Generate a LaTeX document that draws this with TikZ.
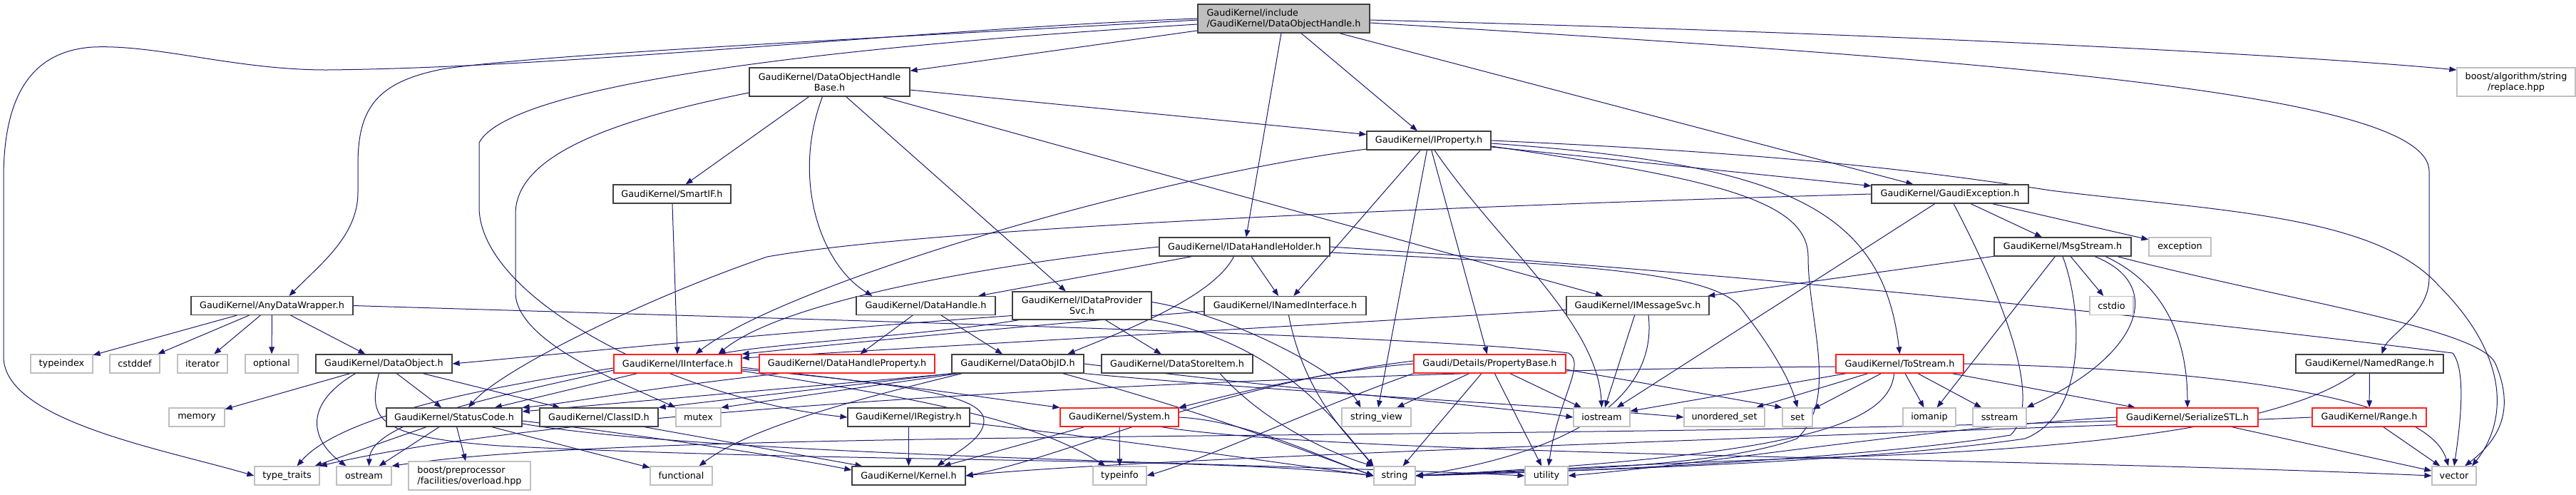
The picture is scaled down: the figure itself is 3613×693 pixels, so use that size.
\documentclass[tikz,border=0pt]{standalone}
\usepackage{fontspec}
\setmainfont{DejaVu Sans}
\usetikzlibrary{arrows.meta,calc}
\definecolor{edgec}{HTML}{191970}
\definecolor{docb}{HTML}{404040}
\definecolor{extb}{HTML}{BFBFBF}
\definecolor{redb}{HTML}{FF2020}
\definecolor{rootf}{HTML}{BFBFBF}
\newcommand\nodefnt{\fontsize{6.4}{7.5}\selectfont}
\pgfdeclarelayer{bg}
\pgfsetlayers{bg,main}
\tikzset{
  nb/.style={rectangle, fill=white, line width=0.6pt, inner sep=0pt, minimum height=13pt, font=\nodefnt, align=center},
  docn/.style={nb, draw=docb},
  extn/.style={nb, draw=extb},
  redn/.style={nb, draw=redb},
  bw/.style={minimum width=#1*0.5pt},
  tall/.style={minimum height=20pt},
  e/.style={draw=edgec, line width=0.5pt, -{Triangle[length=5pt,width=3.8pt]}}
}
\begin{document}
\begin{tikzpicture}[x=0.5pt,y=-0.5pt]
\useasboundingbox (0,0) rectangle (3613,693);
% row 0-4
\node[docn,bw=241,tall,fill=rootf,align=left] (main) at (1800.5,26) {GaudiKernel/include\\/GaudiKernel/DataObjectHandle.h};
\node[docn,bw=225,tall] (dohb) at (1163.5,115) {GaudiKernel/DataObjectHandle\\Base.h};
\node[extn,bw=166,tall] (boost) at (3529,115) {boost/algorithm/string\\/replace.hpp};
\node[docn,bw=174] (iprop) at (2004,197) {GaudiKernel/IProperty.h};
\node[docn,bw=165] (smartif) at (942.5,272) {GaudiKernel/SmartIF.h};
\node[docn,bw=220] (gexc) at (2735,272) {GaudiKernel/GaudiException.h};
\node[docn,bw=239] (idhh) at (1745.5,346) {GaudiKernel/IDataHandleHolder.h};
\node[docn,bw=192] (msgs) at (2893,346) {GaudiKernel/MsgStream.h};
\node[extn,bw=87] (exception) at (3057.5,346) {exception};
% row 5
\node[docn,bw=227] (anydw) at (381.5,428.5) {GaudiKernel/AnyDataWrapper.h};
\node[docn,bw=195] (dhandle) at (1298.5,428.5) {GaudiKernel/DataHandle.h};
\node[docn,bw=195,minimum height=19.5pt] (idps) at (1517.5,428.5) {GaudiKernel/IDataProvider\\Svc.h};
\node[docn,bw=227] (inamed) at (1802.5,428.5) {GaudiKernel/INamedInterface.h};
\node[docn,bw=200] (imsg) at (2297,428.5) {GaudiKernel/IMessageSvc.h};
\node[extn,bw=61] (cstdio) at (2961.5,428.5) {cstdio};
% row 6
\node[extn,bw=87] (typeindex) at (86.5,510) {typeindex};
\node[extn,bw=70] (cstddef) at (189,510) {cstddef};
\node[extn,bw=70] (iterator) at (284,510) {iterator};
\node[extn,bw=74] (optional) at (381,510) {optional};
\node[docn,bw=191] (dobj) at (538.5,510) {GaudiKernel/DataObject.h};
\node[redn,bw=179] (iintf) at (950.5,510) {GaudiKernel/IInterface.h};
\node[redn,bw=246] (dhp) at (1188,510) {GaudiKernel/DataHandleProperty.h};
\node[docn,bw=185] (dobjid) at (1427.5,510) {GaudiKernel/DataObjID.h};
\node[docn,bw=212] (dsi) at (1651,510) {GaudiKernel/DataStoreItem.h};
\node[redn,bw=213] (pbase) at (2089.5,510) {Gaudi/Details/PropertyBase.h};
\node[redn,bw=179] (tostream) at (2664.5,510) {GaudiKernel/ToStream.h};
\node[docn,bw=207] (namedrange) at (3323.5,510) {GaudiKernel/NamedRange.h};
% row 7
\node[extn,bw=78] (memory) at (276,585) {memory};
\node[docn,bw=190] (statuscode) at (637,585) {GaudiKernel/StatusCode.h};
\node[docn,bw=166] (classid) at (840,585) {GaudiKernel/ClassID.h};
\node[extn,bw=63] (mutex) at (979.5,585) {mutex};
\node[docn,bw=171] (iregistry) at (1274.5,585) {GaudiKernel/IRegistry.h};
\node[redn,bw=166] (system) at (1570,585) {GaudiKernel/System.h};
\node[extn,bw=97] (stringview) at (1930.5,585) {string\_view};
\node[extn,bw=79] (iostream) at (2246.5,585) {iostream};
\node[extn,bw=113] (unorderedset) at (2418.5,585) {unordered\_set};
\node[extn,bw=42] (set) at (2521,585) {set};
\node[extn,bw=74] (iomanip) at (2706,585) {iomanip};
\node[extn,bw=75] (sstream) at (2804.5,585) {sstream};
\node[redn,bw=198] (serstl) at (3068,585) {GaudiKernel/SerializeSTL.h};
\node[redn,bw=160] (range) at (3323,585) {GaudiKernel/Range.h};
% row 8
\node[extn,bw=91] (typetraits) at (402.5,667) {type\_traits};
\node[extn,bw=77] (ostream) at (510.5,667) {ostream};
\node[extn,bw=171,tall,align=left] (boostpp) at (658.5,667) {boost/preprocessor\\/facilities/overload.hpp};
\node[extn,bw=87] (functional) at (955.5,667) {functional};
\node[docn,bw=159] (kernel) at (1274.5,667) {GaudiKernel/Kernel.h};
\node[extn,bw=75] (typeinfo) at (1570.5,667) {typeinfo};
\node[extn,bw=58] (string) at (1956,667) {string};
\node[extn,bw=60] (utility) at (2169,667) {utility};
\node[extn,bw=62] (vector) at (3442,667) {vector};

\begin{pgfonlayer}{bg}
% main
\draw[e] (main.west) .. controls (1300,40) and (800,95) .. (458,98) .. controls (330,98) and (220,62) .. (130,66) .. controls (40,72) and (5,140) .. (5,250) -- (5,500) .. controls (5,590) and (230,630) .. (typetraits.west);
\draw[e] ($(main.west)+(0,2)$) .. controls (1300,50) and (760,75) .. (620,97) .. controls (530,115) and (502,150) .. (502,230) -- (502,270) .. controls (502,330) and (450,370) .. ($(anydw.north)+(24,0)$);
\draw[e] ($(main.west)+(0,8)$) .. controls (1250,60) and (720,110) .. (672,200) -- (672,290) .. controls (672,420) and (950,560) .. (iregistry.west);
\draw[e] (main) -- (dohb);
\draw[e] (main) -- (iprop);
\draw[e] (main) -- (gexc);
\draw[e] (main) -- (idhh);
\draw[e] ($(main.east)+(0,2)$) .. controls (2600,45) and (3200,75) .. ($(boost.west)+(0,-17)$);
\draw[e] ($(main.east)+(0,6)$) .. controls (2800,85) and (3407,130) .. (3407,240) -- (3407,390) .. controls (3407,440) and (3350,470) .. ($(namedrange.north)+(17,0)$);
% dohb
\draw[e] (dohb) -- (iprop);
\draw[e] (dohb) -- (imsg);
\draw[e] (dohb) -- (idps);
\draw[e] ($(dohb.south)+(-10,0)$) .. controls (1110,250) and (1150,370) .. ($(dhandle.north)+(-75,0)$);
\draw[e] (dohb) -- (smartif);
\draw[e] ($(dohb.west)+(0,15)$) .. controls (850,170) and (723,220) .. (723,300) -- (723,410) .. controls (723,480) and (880,540) .. (mutex.north west);
% iprop
\draw[e] ($(iprop.west)+(0,12)$) .. controls (1600,250) and (1100,400) .. ($(iintf.north)+(25,0)$);
\draw[e] (iprop) -- (inamed);
\draw[e] (iprop) -- (stringview);
\draw[e] (iprop) -- (pbase);
\draw[e] ($(iprop.south)+(8,0)$) .. controls (2100,340) and (2240,450) .. (iostream.north);
\draw[e] (iprop.east) .. controls (2500,215) and (2700,240) .. (2876,267) .. controls (3100,295) and (3330,300) .. (3420,400) .. controls (3530,510) and (3510,600) .. ($(vector.north)+(25,0)$);
\draw[e] ($(iprop.east)+(0,4)$) .. controls (2500,230) and (2640,290) .. (tostream.north);
\draw[e] ($(iprop.east)+(0,8)$) .. controls (2400,250) and (2536,280) .. (2536,360) .. controls (2536,450) and (2580,560) .. (2520,615) .. controls (2400,660) and (2100,660) .. (string.east);
\draw[e] (iprop) -- (gexc);
% smartif
\draw[e] (smartif) -- (iintf);
% gexc
\draw[e] (gexc) -- (msgs);
\draw[e] (gexc) -- (exception);
\draw[e] ($(gexc.south)+(5,0)$) .. controls (2800,400) and (2870,560) .. (2820,610) .. controls (2600,645) and (2200,662) .. (string.east);
\draw[e] (gexc) -- (iostream);
\draw[e] (gexc.west) .. controls (2000,290) and (1300,320) .. (1076,360) .. controls (900,420) and (700,520) .. ($(statuscode.north)+(20,0)$);
% idhh
\draw[e] ($(idhh.south)+(-15,0)$) .. controls (1700,420) and (1560,470) .. ($(dobjid.north)+(70,0)$);
\draw[e] (idhh) -- (inamed);
\draw[e] (idhh) -- (dhandle);
\draw[e] (idhh.west) .. controls (1400,370) and (1100,420) .. ($(iintf.north)+(57,0)$);
\draw[e] (idhh.east) .. controls (2400,380) and (3000,440) .. (3440,495) .. controls (3460,520) and (3450,600) .. (vector.north);
\draw[e] ($(idhh.east)+(0,8)$) .. controls (2200,370) and (2400,380) .. (2440,430) .. controls (2480,480) and (2510,530) .. (set.north);
% msgs
\draw[e] (msgs) -- (imsg);
\draw[e] (msgs) -- (iomanip);
\draw[e] (msgs) -- (cstdio);
\draw[e] ($(msgs.south)+(60,0)$) .. controls (3040,400) and (3068,480) .. (serstl.north);
\draw[e] ($(msgs.south)+(45,0)$) .. controls (3040,400) and (3000,500) .. (sstream.north east);
\draw[e] ($(msgs.south east)+(-20,0)$) .. controls (3200,420) and (3480,460) .. (3500,510) .. controls (3530,580) and (3500,620) .. ($(vector.north)+(15,0)$);
\draw[e] (msgs.south) .. controls (2920,430) and (2930,580) .. (2840,615) .. controls (2600,650) and (2200,660) .. (string.east);
% anydw
\draw[e] (anydw) -- (typeindex);
\draw[e] (anydw) -- (cstddef);
\draw[e] (anydw) -- (iterator);
\draw[e] (anydw) -- (optional);
\draw[e] (anydw) -- (dobj);
\draw[e] (anydw.east) .. controls (1200,450) and (2000,470) .. (2200,495) .. controls (2225,510) and (2185,560) .. ($(utility.north)+(3,0)$);
% dhandle
\draw[e] (dhandle) -- (dhp);
\draw[e] (dhandle) -- (dobjid);
% idps
\draw[e] (idps) -- (dsi);
\draw[e] ($(idps.west)+(0,14)$) .. controls (1100,465) and (800,495) .. (dobj.east);
\draw[e] ($(idps.south west)+(10,0)$) .. controls (1300,470) and (1100,480) .. ($(iintf.north)+(57,0)$);
\draw[e] (idps.south east) .. controls (1800,480) and (1880,600) .. (string.north west);
\draw[e] ($(idps.east)+(0,-5)$) .. controls (1720,440) and (1880,520) .. ($(stringview.north)+(-22,0)$);
% inamed
\draw[e] ($(inamed.west)+(0,8)$) .. controls (1400,460) and (1200,480) .. (iintf.north east);
\draw[e] ($(inamed.south)+(5,0)$) .. controls (1830,560) and (1900,620) .. (string.north west);
% imsg
\draw[e] ($(imsg.west)+(0,6)$) -- ($(iintf.east)+(0,-8)$);
\draw[e] (imsg) -- (iostream);
\draw[e] ($(imsg.south)+(15,0)$) .. controls (2330,600) and (2100,650) .. (string.east);
% dobj
\draw[e] (dobj) -- (memory);
\draw[e] ($(dobj.south)+(-40,0)$) .. controls (420,570) and (440,620) .. ($(ostream.north)+(-25,0)$);
\draw[e] (dobj) -- (statuscode);
\draw[e] (dobj) -- (classid);
\draw[e] ($(dobj.south)+(-7,0)$) .. controls (515,590) and (530,612) .. (700,625) .. controls (1200,650) and (1700,640) .. (string.west);
% iintf
\draw[e] (iintf) -- (statuscode);
\draw[e] ($(iintf.west)+(0,6)$) .. controls (700,540) and (480,580) .. ($(typetraits.north)+(14,0)$);
\draw[e] ($(iintf.west)+(0,9)$) .. controls (700,555) and (520,590) .. ($(ostream.north)+(7,0)$);
\draw[e] ($(iintf.east)+(0,8)$) .. controls (1200,530) and (1400,560) .. (system.north west);
\draw[e] ($(iintf.east)+(0,5)$) .. controls (1250,540) and (1380,550) .. (1380,590) .. controls (1380,615) and (1340,635) .. ($(kernel.north)+(40,0)$);
\draw[e] ($(iintf.east)+(0,10)$) .. controls (1300,560) and (1450,590) .. ($(typeinfo.north)+(-20,0)$);
% dhp
\draw[e] ($(dhp.south west)+(30,0)$) .. controls (900,545) and (800,565) .. (statuscode.north east);
% dobjid
\draw[e] (dobjid.south west) -- (classid.north east);
\draw[e] ($(dobjid.south west)+(5,0)$) -- ($(statuscode.east)+(0,-8)$);
\draw[e] ($(dobjid.south west)+(10,0)$) -- (mutex.north east);
\draw[e] ($(dobjid.south west)+(15,0)$) .. controls (1200,560) and (1050,600) .. ($(functional.north)+(25,0)$);
\draw[e] (dobjid.east) .. controls (1800,545) and (2100,570) .. (iostream.west);
\draw[e] (dobjid.south east) .. controls (1800,550) and (2200,570) .. (unorderedset.west);
\draw[e] ($(dobjid.south east)+(-30,0)$) .. controls (1700,580) and (1850,640) .. (string.west);
% dsi
\draw[e] ($(dsi.south)+(60,0)$) .. controls (1780,600) and (1880,640) .. (string.north west);
% pbase
\draw[e] (pbase.west) .. controls (1850,520) and (1700,560) .. (system.north east);
\draw[e] ($(pbase.west)+(0,-4)$) .. controls (1700,540) and (1500,640) .. (kernel.east);
\draw[e] (pbase.south west) .. controls (1850,570) and (1700,640) .. (typeinfo.east);
\draw[e] (pbase) -- (stringview);
\draw[e] (pbase) -- (string);
\draw[e] (pbase) -- (utility);
\draw[e] (pbase) -- (iostream);
\draw[e] ($(pbase.east)+(0,8)$) -- (set.north west);
% tostream
\draw[e] ($(tostream.west)+(0,4)$) .. controls (1800,520) and (800,570) .. (typetraits.north east);
\draw[e] ($(tostream.south west)+(15,0)$) -- ($(iostream.north east)+(0,5)$);
\draw[e] (tostream) -- (unorderedset);
\draw[e] (tostream) -- (set);
\draw[e] ($(tostream.south)+(-8,0)$) .. controls (2650,600) and (2500,640) .. (string.east);
\draw[e] (tostream) -- (iomanip);
\draw[e] (tostream) -- (sstream);
\draw[e] (tostream) -- (serstl);
\draw[e] (tostream.east) .. controls (3000,515) and (3400,540) .. ($(vector.north)+(-8,0)$);
% namedrange
\draw[e] (namedrange) -- (range);
\draw[e] ($(namedrange.south)+(-20,0)$) .. controls (3200,600) and (2900,630) .. (2600,640) .. controls (2300,650) and (2100,662) .. (string.east);
% statuscode
\draw[e] (statuscode) -- (typetraits);
\draw[e] (statuscode) -- (ostream);
\draw[e] (statuscode) -- (boostpp);
\draw[e] (statuscode) -- (functional);
\draw[e] ($(statuscode.east)+(0,5)$) .. controls (900,610) and (1100,640) .. ($(kernel.west)+(0,-8)$);
\draw[e] ($(statuscode.east)+(0,9)$) .. controls (1000,640) and (1800,650) .. (utility.west);
% classid
\draw[e] ($(classid.south east)+(-20,0)$) -- ($(kernel.north west)+(15,0)$);
% iregistry
\draw[e] (iregistry) -- (kernel);
\draw[e] ($(iregistry.east)+(0,8)$) .. controls (1600,620) and (1800,650) .. (string.west);
% system
\draw[e] (system) -- (kernel);
\draw[e] (system) -- (typeinfo);
\draw[e] (system.east) .. controls (1750,590) and (1850,640) .. (string.west);
\draw[e] ($(system.south east)+(-25,0)$) .. controls (1900,640) and (2800,640) .. (vector.west);
% serstl
\draw[e] (serstl) -- (vector);
\draw[e] (serstl.west) .. controls (2700,600) and (2400,650) .. (utility.east);
\draw[e] ($(serstl.west)+(0,5)$) .. controls (2000,620) and (900,600) .. (ostream.north east);
% range
\draw[e] (range) -- (vector);
\draw[e] (range.west) .. controls (2900,600) and (1600,640) .. (kernel.east);
\end{pgfonlayer}
\end{tikzpicture}
\end{document}
